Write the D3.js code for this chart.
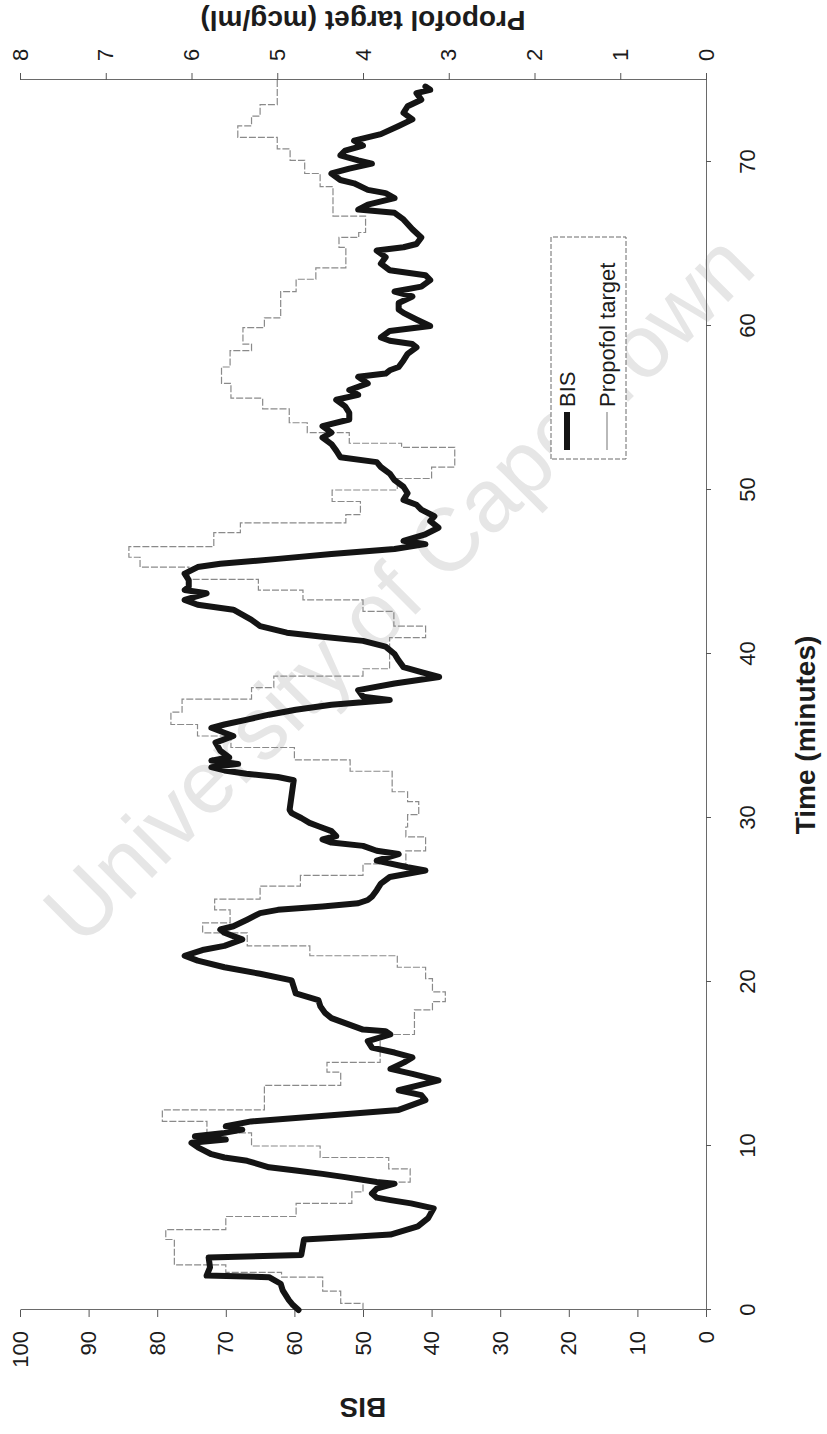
<!DOCTYPE html>
<html>
<head>
<meta charset="utf-8">
<script src="https://cdn.jsdelivr.net/npm/d3@7"></script>
<style>
  html, body { margin: 0; background: #fff; }
  svg { display: block; }
  text { font-family: "Liberation Sans", Arial, Helvetica, sans-serif; fill: #1c1c1c; }
</style>
</head>
<body>
<svg id="chart" width="827" height="1434"></svg>
<script>
// BIS trace (minutes, index value)
const bisTime = [0.0,0.3,0.6,1.2,1.6,2.0,2.1,2.6,3.2,3.35,4.3,4.45,4.6,5.1,5.6,6.2,6.5,6.7,6.85,7.1,7.4,7.7,7.8,8.1,8.3,8.5,8.7,9.1,9.3,9.5,9.9,10.2,10.4,10.6,10.8,11.0,11.2,11.5,12.2,12.8,13.1,13.4,13.8,14.0,14.4,14.7,15.1,15.4,15.7,16.0,16.4,16.8,17.0,17.1,17.8,18.1,18.5,18.9,19.3,19.7,20.1,20.5,20.9,21.3,21.6,21.95,22.2,22.6,22.8,23.0,23.2,23.4,23.8,24.2,24.4,24.6,24.8,25.0,25.2,25.6,26.0,26.4,26.8,27.0,27.4,27.8,28.0,28.3,28.5,28.7,28.9,29.2,29.5,29.7,30.0,30.3,30.5,32.3,32.5,32.7,32.9,33.1,33.3,33.5,33.7,34.1,34.6,35.0,35.2,35.5,35.7,36.0,36.3,36.6,36.9,37.2,37.4,37.8,38.2,38.6,38.9,39.2,39.6,40.0,40.45,40.8,41.05,41.3,41.7,42.1,42.4,42.7,43.0,43.3,43.7,43.9,44.1,44.5,44.9,45.3,45.5,45.8,46.1,46.4,46.7,46.9,47.3,47.7,48.1,48.4,48.8,49.1,49.4,49.8,50.2,50.6,51.0,51.4,51.7,52.0,52.4,52.8,53.2,53.5,53.9,54.3,54.7,55.1,55.5,55.8,56.1,56.5,56.9,57.1,57.3,57.5,57.9,58.3,58.7,58.9,59.1,59.3,59.7,60.0,60.4,60.8,61.0,61.4,61.8,62.1,62.4,62.8,63.1,63.4,63.8,64.2,64.6,64.8,65.0,65.4,65.9,66.5,66.9,67.1,67.4,67.8,68.1,68.3,68.7,68.9,69.3,69.6,69.9,70.1,70.4,70.7,71.0,71.3,71.7,72.2,72.6,73.0,73.4,73.8,74.2,74.4,74.6];
const bisValue = [59.4,60.2,60.8,61.7,62.0,63.7,72.8,72.3,72.5,59.0,58.6,52.0,46.0,42.0,40.5,39.7,43.0,46.0,48.0,48.7,48.0,45.4,48.0,52.6,55.9,59.8,63.7,66.9,70.2,72.1,74.0,75.0,70.0,74.5,70.2,67.6,70.0,66.3,44.8,40.9,41.5,44.8,40.9,39.0,42.8,46.0,44.0,42.8,45.4,48.7,49.3,46.0,46.7,50.0,54.6,55.5,56.2,56.5,59.8,60.1,60.4,65.0,70.2,74.1,76.0,73.4,70.2,67.6,68.9,70.2,70.8,68.9,66.9,65.0,62.4,55.9,50.7,49.3,48.7,48.0,47.4,46.1,40.9,43.5,48.0,44.8,48.0,50.0,54.6,55.9,53.9,54.6,56.5,57.8,59.0,60.4,60.7,60.1,62.4,67.0,70.2,72.1,68.2,72.1,69.5,70.8,71.5,68.9,70.2,72.1,70.2,66.9,63.7,59.8,54.6,46.1,50.0,50.7,45.4,38.9,41.5,44.1,44.8,45.4,46.7,50.0,55.9,61.1,65.0,66.3,67.6,68.9,74.1,76.0,72.8,76.0,75.4,75.4,76.0,74.1,70.8,62.4,54.6,45.4,40.9,44.1,40.9,39.0,40.2,39.6,41.5,42.2,44.1,43.5,44.1,45.4,46.1,47.4,48.0,53.3,53.9,54.6,55.9,54.6,55.9,52.0,52.0,52.6,53.9,50.7,52.0,49.3,50.7,46.7,46.1,44.8,44.1,43.5,42.2,42.8,46.1,47.4,46.1,40.2,42.2,44.1,44.8,44.8,42.8,45.4,41.5,40.2,40.9,46.1,47.4,46.7,48.0,44.1,42.2,41.5,42.8,44.1,45.4,50.7,49.3,45.4,46.7,49.3,51.3,53.3,54.6,52.0,48.7,50.7,53.3,52.6,50.0,51.3,47.4,44.8,42.8,44.1,43.5,41.5,42.2,40.2,40.9];

// Propofol target concentration (minute each setting starts, mcg/ml)
const propofolTime = [0,0.4,1.15,2.0,2.3,2.75,4.3,4.9,5.7,6.5,7.2,7.8,8.6,9.3,10.0,10.8,11.5,12.2,13.7,14.5,15.1,16.8,18.3,18.8,19.4,20.2,20.9,21.6,22.2,23.0,23.6,24.4,25.05,25.85,26.5,27.2,28.0,28.85,29.45,30.2,31.0,31.6,32.85,33.55,34.3,35.0,35.7,36.45,37.25,37.95,38.65,39.1,41.0,41.7,42.6,43.3,43.9,44.55,45.3,45.9,46.55,47.4,48.0,48.5,49.3,50.0,50.7,51.4,52.6,52.85,53.5,54.1,54.95,55.6,56.5,57.5,58.5,58.9,59.9,60.5,62.1,62.85,63.55,64.8,65.4,65.7,66.7,68.5,69.3,70.1,70.8,71.5,72.2,72.8,73.5,75];
const propofolValue = [4.0,4.26,4.47,4.95,5.6,6.2,6.3,5.6,4.78,4.13,4.0,3.45,3.7,4.5,5.3,5.82,6.34,5.15,4.26,4.42,3.8,3.4,3.19,3.04,3.19,3.27,3.6,4.62,5.35,5.87,5.55,5.73,5.2,4.73,4.0,3.5,3.27,3.5,3.48,3.35,3.48,3.66,4.15,4.8,5.54,5.93,6.24,6.11,5.3,5.04,4.0,3.69,3.27,3.64,4.0,4.7,5.22,6.03,6.6,6.73,5.74,5.43,4.2,4.03,4.36,3.6,3.2,2.93,3.55,4.16,4.65,4.86,5.17,5.54,5.65,5.55,5.3,5.4,5.15,4.96,4.78,4.55,4.2,4.28,4.05,3.97,4.35,4.5,4.68,4.85,5.0,5.46,5.3,5.2,5.0,5.0];

const timeTicks = [0, 10, 20, 30, 40, 50, 60, 70];
const bisTicks = [0, 10, 20, 30, 40, 50, 60, 70, 80, 90, 100];
const propofolTicks = [0, 1, 2, 3, 4, 5, 6, 7, 8];
const seriesNames = ["BIS", "Propofol target"];

const svg = d3.select("#chart");

// faint diagonal watermark behind the plot
svg.append("text")
  .attr("transform", "translate(398,588) rotate(-45)")
  .attr("text-anchor", "middle")
  .attr("dominant-baseline", "central")
  .style("font-size", "89px")
  .style("fill", "#e6e6e6")
  .text("University of Cape Town");

// The figure is laid out in landscape and turned a quarter turn counter-clockwise.
const W = 1230, H = 686;
const g = svg.append("g").attr("transform", "translate(20,1310) rotate(-90)");

const x = d3.scaleLinear().domain([0, 75]).range([0, W]);
const yB = d3.scaleLinear().domain([0, 100]).range([H, 0]);
const yP = d3.scaleLinear().domain([0, 8]).range([H, 0]);

function styleAxis(sel) {
  sel.select(".domain").attr("stroke", "#6a6a6a").attr("stroke-width", 1);
  sel.selectAll(".tick line").attr("stroke", "#555").attr("stroke-width", 1);
  sel.selectAll(".tick text").style("font-size", "22px").attr("fill", "#1c1c1c");
}

// time axis
const gx = g.append("g").attr("transform", `translate(0,${H})`)
  .call(d3.axisBottom(x).tickValues(timeTicks).tickSize(5).tickSizeOuter(0));
styleAxis(gx);
gx.selectAll(".tick text").attr("y", 41).attr("dy", "0.35em");

// BIS axis
const gyB = g.append("g")
  .call(d3.axisLeft(yB).tickValues(bisTicks).tickSize(7).tickPadding(14).tickSizeOuter(0));
styleAxis(gyB);

// propofol axis
const gyP = g.append("g").attr("transform", `translate(${W},0)`)
  .call(d3.axisRight(yP).tickValues(propofolTicks).tickSize(7).tickPadding(12).tickSizeOuter(0));
styleAxis(gyP);

// axis titles
g.append("text")
  .attr("transform", `translate(${W / 2 - 40},${H + 99})`)
  .attr("text-anchor", "middle").attr("dominant-baseline", "central")
  .style("font-size", "28px").style("font-weight", "bold")
  .text("Time (minutes)");
g.append("text")
  .attr("transform", `translate(-97,${H / 2}) rotate(-90)`)
  .attr("text-anchor", "middle").attr("dominant-baseline", "central")
  .style("font-size", "28px").style("font-weight", "bold")
  .text("BIS");
g.append("text")
  .attr("transform", `translate(${W + 60},${H / 2}) rotate(-90)`)
  .attr("text-anchor", "middle").attr("dominant-baseline", "central")
  .style("font-size", "28px").style("font-weight", "bold")
  .text("Propofol target (mcg/ml)");

// series
const propofolData = propofolTime.map((t, i) => ({ t, v: propofolValue[i] }));
const bisData = bisTime.map((t, i) => ({ t, v: bisValue[i] }));

g.append("path")
  .datum(propofolData)
  .attr("fill", "none")
  .attr("stroke", "#8a8a8a")
  .attr("stroke-width", 1.2)
  .attr("stroke-dasharray", "7 2")
  .attr("d", d3.line().x(d => x(d.t)).y(d => yP(d.v)).curve(d3.curveStepAfter));

g.append("path")
  .datum(bisData)
  .attr("fill", "none")
  .attr("stroke", "#141414")
  .attr("stroke-width", 6)
  .attr("stroke-linejoin", "round")
  .attr("stroke-linecap", "round")
  .attr("d", d3.line().x(d => x(d.t)).y(d => yB(d.v)));

// legend
const lg = g.append("g").attr("transform", "translate(851,531)");
lg.append("rect").attr("width", 222).attr("height", 75)
  .attr("fill", "#fff").attr("stroke", "#6a6a6a").attr("stroke-width", 1)
  .attr("stroke-dasharray", "5 2");
seriesNames.forEach((name, i) => {
  const cy = 16 + i * 40;
  lg.append("line").attr("x1", 9).attr("x2", 47).attr("y1", cy).attr("y2", cy)
    .attr("stroke", i === 0 ? "#141414" : "#8a8a8a")
    .attr("stroke-width", i === 0 ? 6 : 1.2);
  lg.append("text").attr("x", 52).attr("y", cy)
    .attr("dominant-baseline", "central")
    .style("font-size", "22px")
    .text(name);
});
</script>
</body>
</html>
